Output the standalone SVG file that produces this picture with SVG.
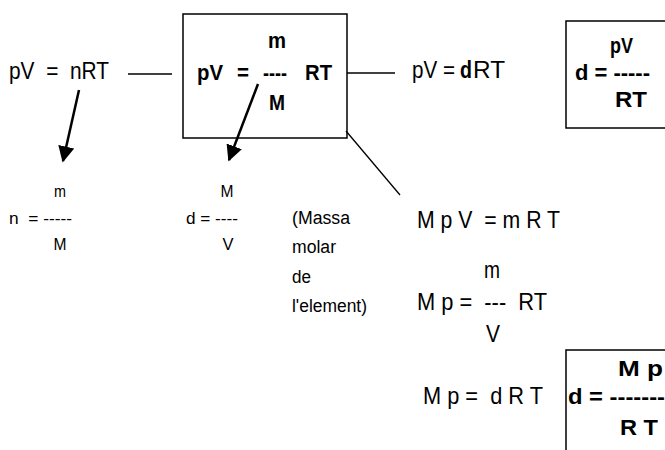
<svg xmlns="http://www.w3.org/2000/svg" width="665" height="450" viewBox="0 0 665 450">
<defs>
<style>
text{font-family:"Liberation Sans",Arial,sans-serif;fill:#000}
.big{font-size:23px}
.b{font-weight:bold;font-size:22px}
.sm{font-size:17px}
.md{font-size:18px}
.eq{font-size:24px}
.ln{stroke:#000;stroke-width:1.3;fill:none}
.box{stroke:#000;stroke-width:1.5;fill:none}
.ar{stroke:#000;stroke-width:2.5;fill:none}
</style>
<marker id="ah" viewBox="0 0 10 10" refX="9" refY="5" markerWidth="6.5" markerHeight="6.5" orient="auto" markerUnits="strokeWidth">
<path d="M0,0 L10,5 L0,10 z" fill="#000"/>
</marker>
</defs>
<rect width="665" height="450" fill="#fff"/>

<g id="ideal">
<text class="big" x="9" y="79" textLength="100" lengthAdjust="spacingAndGlyphs" xml:space="preserve">pV  =  nRT</text>
</g>

<g id="mainbox">
<rect class="box" x="183" y="14" width="164" height="124"/>
<text class="b" x="277" y="48" text-anchor="middle" textLength="18" lengthAdjust="spacingAndGlyphs">m</text>
<text class="b" x="197" y="80" textLength="26" lengthAdjust="spacingAndGlyphs">pV</text>
<text class="b" x="237" y="80" textLength="12" lengthAdjust="spacingAndGlyphs">=</text>
<text class="b" x="263" y="80" textLength="24" lengthAdjust="spacingAndGlyphs">----</text>
<text class="b" x="305" y="80" textLength="27" lengthAdjust="spacingAndGlyphs">RT</text>
<text class="b" x="277" y="110" text-anchor="middle" textLength="16" lengthAdjust="spacingAndGlyphs">M</text>
</g>

<g id="density">
<text class="big" x="412" y="78" textLength="43" lengthAdjust="spacingAndGlyphs">pV =</text>
<text class="big" x="460" y="78" font-weight="bold" textLength="12" lengthAdjust="spacingAndGlyphs">d</text>
<text class="big" x="473" y="78" textLength="32" lengthAdjust="spacingAndGlyphs">RT</text>
</g>

<g id="rightbox">
<rect class="box" x="566" y="21" width="120" height="107"/>
<text class="b" x="610" y="53" textLength="23" lengthAdjust="spacingAndGlyphs">pV</text>
<text class="b" x="575" y="80" textLength="75" lengthAdjust="spacingAndGlyphs">d = -----</text>
<text class="b" x="615" y="107" textLength="32" lengthAdjust="spacingAndGlyphs">RT</text>
</g>

<g id="nfrac">
<text class="sm" x="60" y="197" text-anchor="middle" textLength="12" lengthAdjust="spacingAndGlyphs">m</text>
<text class="sm" x="9" y="224" textLength="63" lengthAdjust="spacingAndGlyphs" xml:space="preserve">n  = -----</text>
<text class="sm" x="60" y="250" text-anchor="middle" textLength="13" lengthAdjust="spacingAndGlyphs">M</text>
</g>

<g id="dfrac">
<text class="sm" x="227" y="197" text-anchor="middle" textLength="13" lengthAdjust="spacingAndGlyphs">M</text>
<text class="sm" x="186" y="224" textLength="52" lengthAdjust="spacingAndGlyphs">d = ----</text>
<text class="sm" x="228" y="250" text-anchor="middle" textLength="11" lengthAdjust="spacingAndGlyphs">V</text>
</g>

<g id="note">
<text class="md" x="292" y="224" textLength="58" lengthAdjust="spacingAndGlyphs">(Massa</text>
<text class="md" x="292" y="253" textLength="44" lengthAdjust="spacingAndGlyphs">molar</text>
<text class="md" x="292" y="283" textLength="19" lengthAdjust="spacingAndGlyphs">de</text>
<text class="md" x="292" y="312" textLength="75" lengthAdjust="spacingAndGlyphs">l'element)</text>
</g>

<g id="derivation">
<text class="eq" x="417" y="228" textLength="143" lengthAdjust="spacingAndGlyphs" xml:space="preserve">M p V  = m R T</text>
<text class="eq" x="492" y="278" text-anchor="middle" textLength="16" lengthAdjust="spacingAndGlyphs">m</text>
<text class="eq" x="417" y="310" textLength="130" lengthAdjust="spacingAndGlyphs" xml:space="preserve">M p =  ---  RT</text>
<text class="eq" x="493" y="342" text-anchor="middle" textLength="14" lengthAdjust="spacingAndGlyphs">V</text>
<text class="eq" x="423" y="404" textLength="120" lengthAdjust="spacingAndGlyphs" xml:space="preserve">M p =  d R T</text>
</g>

<g id="bottombox">
<path class="box" d="M566,452 L566,350 L668,350"/>
<text class="b" x="618" y="376" textLength="45" lengthAdjust="spacingAndGlyphs">M p</text>
<text class="b" x="568" y="404" textLength="97" lengthAdjust="spacingAndGlyphs">d = -------</text>
<text class="b" x="620" y="435" textLength="38" lengthAdjust="spacingAndGlyphs">R T</text>
</g>

<g id="connectors">
<line class="ln" x1="128" y1="74" x2="172" y2="74"/>
<line class="ln" x1="347" y1="73" x2="395" y2="73"/>
<line class="ln" x1="346" y1="131" x2="400" y2="195"/>
<line class="ar" x1="79" y1="90" x2="63" y2="161" marker-end="url(#ah)"/>
<line class="ar" x1="258" y1="84" x2="229" y2="160" marker-end="url(#ah)"/>
</g>
</svg>
